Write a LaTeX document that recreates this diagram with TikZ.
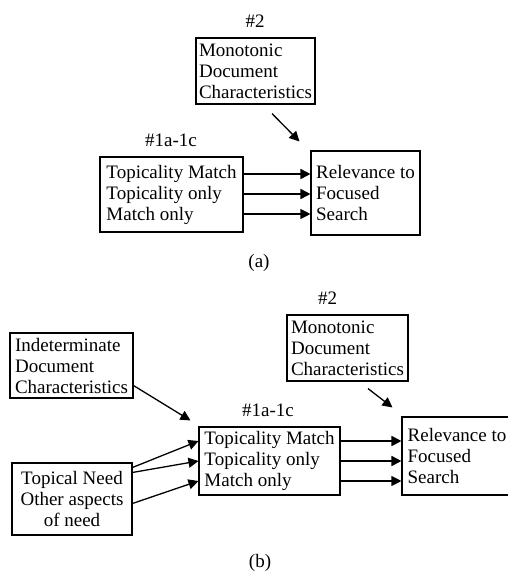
\documentclass[tikz,border=0pt]{standalone}
\usepackage{fontspec}
\setmainfont{Liberation Serif}
\usetikzlibrary{arrows.meta,calc}

\begin{document}
\begin{tikzpicture}[x=1pt,y=-1pt,
  txt/.style={font=\fontsize{19}{21}\selectfont},
  box/.style={txt,draw,line width=1.1pt,align=left,inner sep=0pt},
  cbox/.style={box,align=center},
  tip/.style={-{Triangle[length=10pt,width=10pt]}},
  thick arrow/.style={tip,line width=1.7pt},
  thin arrow/.style={tip,line width=1.1pt},
]
\useasboundingbox (0,0) rectangle (508,574);

% ---------- (a) ----------
\node[box,minimum width=119pt,minimum height=66pt] (m1) at (255.5,71)
  {Monotonic\\Document\\Characteristics};
\node[txt] (m1lab) at (255,21) {\#2};

\node[box,minimum width=143pt,minimum height=75pt] (t1) at (171.5,194.5)
  {Topicality Match\\Topicality only\\Match only};
\node[txt] (t1lab) at (171,140) {\#1a-1c};

\node[box,minimum width=109pt,minimum height=84pt] (r1) at (365.5,193)
  {Relevance to\\Focused\\Search};

\coordinate (a1) at (0,174);
\coordinate (a2) at (0,194);
\coordinate (a3) at (0,214);
\draw[thick arrow] (t1.east |- a1) -- (r1.west |- a1);
\draw[thick arrow] (t1.east |- a2) -- (r1.west |- a2);
\draw[thin arrow]  (t1.east |- a3) -- (r1.west |- a3);

\coordinate (ma1) at ($(m1.south)+(16.5,9)$);
\coordinate (ma2) at ($(r1.north west)+(-11,-9)$);
\draw[thin arrow,line width=1.3pt] (ma1) -- (ma2);

\node[txt] (capa) at (259,263) {(a)};

% ---------- (b) ----------
\node[box,minimum width=121pt,minimum height=66pt] (m2) at (347.5,348)
  {Monotonic\\Document\\Characteristics};
\node[txt] (m2lab) at (327.5,298) {\#2};

\node[box,minimum width=123pt,minimum height=65pt] (ind) at (71.5,365.5)
  {Indeterminate\\Document\\Characteristics};

\node[box,minimum width=141pt,minimum height=68pt] (t2) at (269.5,461)
  {Topicality Match\\Topicality only\\Match only};
\node[txt] (t2lab) at (268,410) {\#1a-1c};

\node[box,minimum width=110pt,minimum height=78pt] (r2) at (457,456)
  {Relevance to\\Focused\\Search};

\node[cbox,minimum width=120pt,minimum height=72pt] (tn) at (72,499)
  {Topical Need\\Other aspects\\of need};

\coordinate (b1) at (0,441);
\coordinate (b2) at (0,461);
\coordinate (b3) at (0,481);
\draw[thick arrow] (t2.east |- b1) -- (r2.west |- b1);
\draw[thick arrow] (t2.east |- b2) -- (r2.west |- b2);
\draw[thin arrow]  (t2.east |- b3) -- (r2.west |- b3);

\draw[thin arrow,line width=1.3pt] ($(tn.north east)+(0,5)$)  -- (t2.west |- b1);
\draw[thin arrow,line width=1.3pt] ($(tn.north east)+(0,10)$) -- (t2.west |- b2);
\draw[thin arrow,line width=1.3pt] ($(tn.north east)+(0,41)$) -- (t2.west |- b3);

\draw[thin arrow,line width=1.3pt] ($(ind.south east)+(0,-13)$) -- ($(t2.north west)+(-8,-6)$);

\coordinate (mb1) at ($(m2.south)+(20.5,7)$);
\coordinate (mb2) at ($(r2.north west)+(-9,-9)$);
\draw[thin arrow,line width=1.3pt] (mb1) -- (mb2);

\node[txt] (capb) at (260,563) {(b)};
\end{tikzpicture}
\end{document}
